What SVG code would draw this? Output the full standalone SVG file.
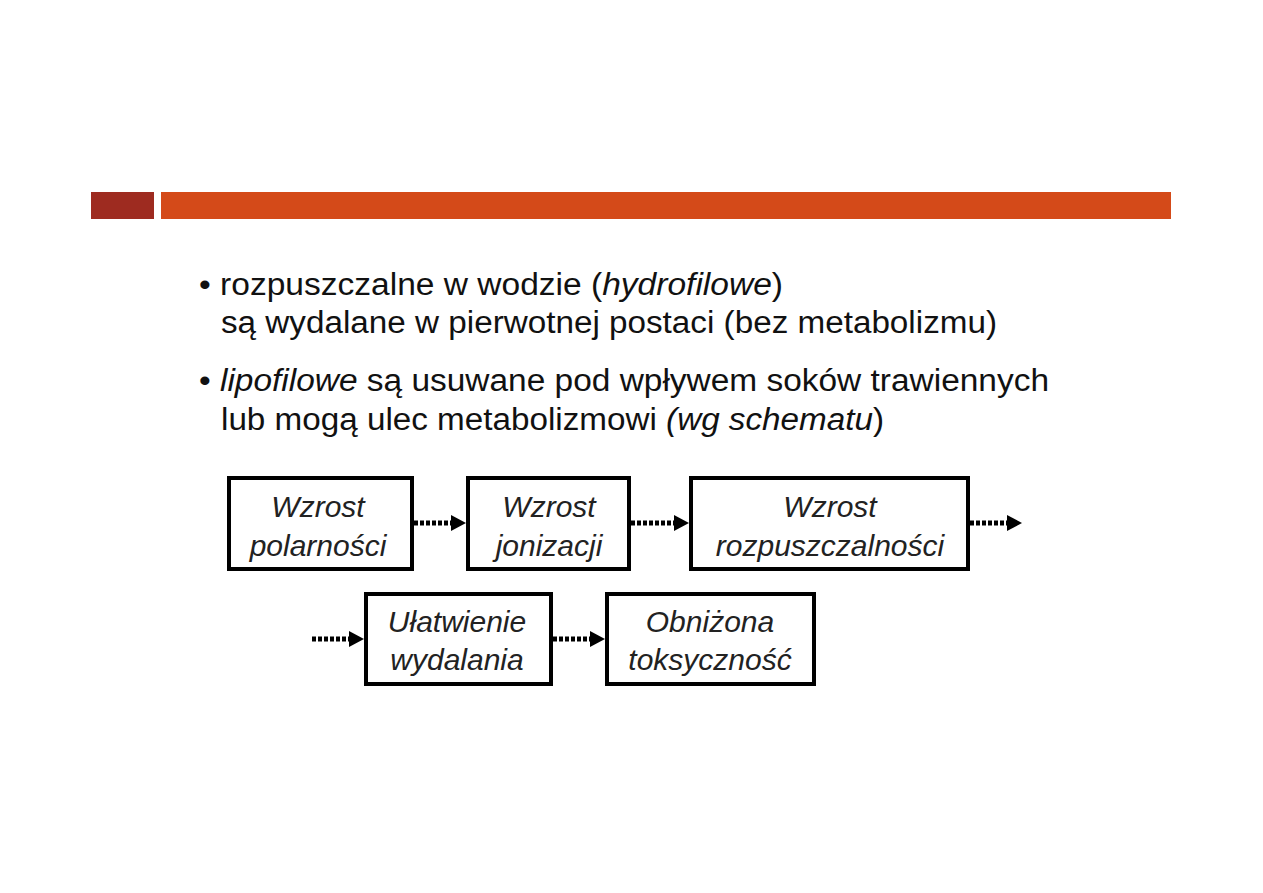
<svg xmlns="http://www.w3.org/2000/svg" width="1263" height="893" viewBox="0 0 1263 893">
<defs>
<style>
.t{font-family:"Liberation Sans",Arial,sans-serif;font-size:31px;fill:#111}
.b{font-family:"Liberation Sans",Arial,sans-serif;font-size:30px;font-style:italic;fill:#222;text-anchor:middle}
.box{fill:#fff;stroke:#000;stroke-width:4}
.c{stroke:#000;stroke-width:5;stroke-dasharray:4 2;fill:none}
</style>
<marker id="ah" markerWidth="16" markerHeight="18" viewBox="0 -9 16 18" refX="0" refY="0" orient="auto" markerUnits="userSpaceOnUse">
<path d="M0,-8 L15,0 L0,8 Z" fill="#000"/>
</marker>
</defs>
<rect width="1263" height="893" fill="#fff"/>
<rect x="91" y="192" width="63" height="27" fill="#9e2b20"/>
<rect x="161" y="192" width="1010" height="27" fill="#d44a19"/>
<g id="text">
<text class="t" x="199" y="295" textLength="584" lengthAdjust="spacingAndGlyphs">• rozpuszczalne w wodzie (<tspan font-style="italic">hydrofilowe</tspan>)</text>
<text class="t" x="221" y="333" textLength="776" lengthAdjust="spacingAndGlyphs">są wydalane w pierwotnej postaci (bez metabolizmu)</text>
<text class="t" x="199" y="391" textLength="850" lengthAdjust="spacingAndGlyphs">• <tspan font-style="italic">lipofilowe</tspan> są usuwane pod wpływem soków trawiennych</text>
<text class="t" x="221" y="430" textLength="663" lengthAdjust="spacingAndGlyphs">lub mogą ulec metabolizmowi <tspan font-style="italic">(wg schematu</tspan>)</text>
</g>
<g id="connectors">
<line class="c" x1="414" y1="523" x2="451" y2="523" marker-end="url(#ah)"/>
<line class="c" x1="631" y1="523" x2="674" y2="523" marker-end="url(#ah)"/>
<line class="c" x1="970" y1="523" x2="1007" y2="523" marker-end="url(#ah)"/>
<line class="c" x1="312" y1="639" x2="349" y2="639" marker-end="url(#ah)"/>
<line class="c" x1="553" y1="639" x2="590" y2="639" marker-end="url(#ah)"/>
</g>
<g id="n1"><rect class="box" x="229" y="478" width="183" height="91"/><text class="b" x="318" y="517">Wzrost</text><text class="b" x="318" y="556">polarności</text></g>
<g id="n2"><rect class="box" x="468" y="478" width="161" height="91"/><text class="b" x="549" y="517">Wzrost</text><text class="b" x="549" y="556">jonizacji</text></g>
<g id="n3"><rect class="box" x="691" y="478" width="277" height="91"/><text class="b" x="830" y="517">Wzrost</text><text class="b" x="830" y="556">rozpuszczalności</text></g>
<g id="n4"><rect class="box" x="366" y="594" width="185" height="90"/><text class="b" x="457" y="632">Ułatwienie</text><text class="b" x="457" y="670">wydalania</text></g>
<g id="n5"><rect class="box" x="607" y="594" width="207" height="90"/><text class="b" x="710" y="632">Obniżona</text><text class="b" x="710" y="670">toksyczność</text></g>
</svg>
